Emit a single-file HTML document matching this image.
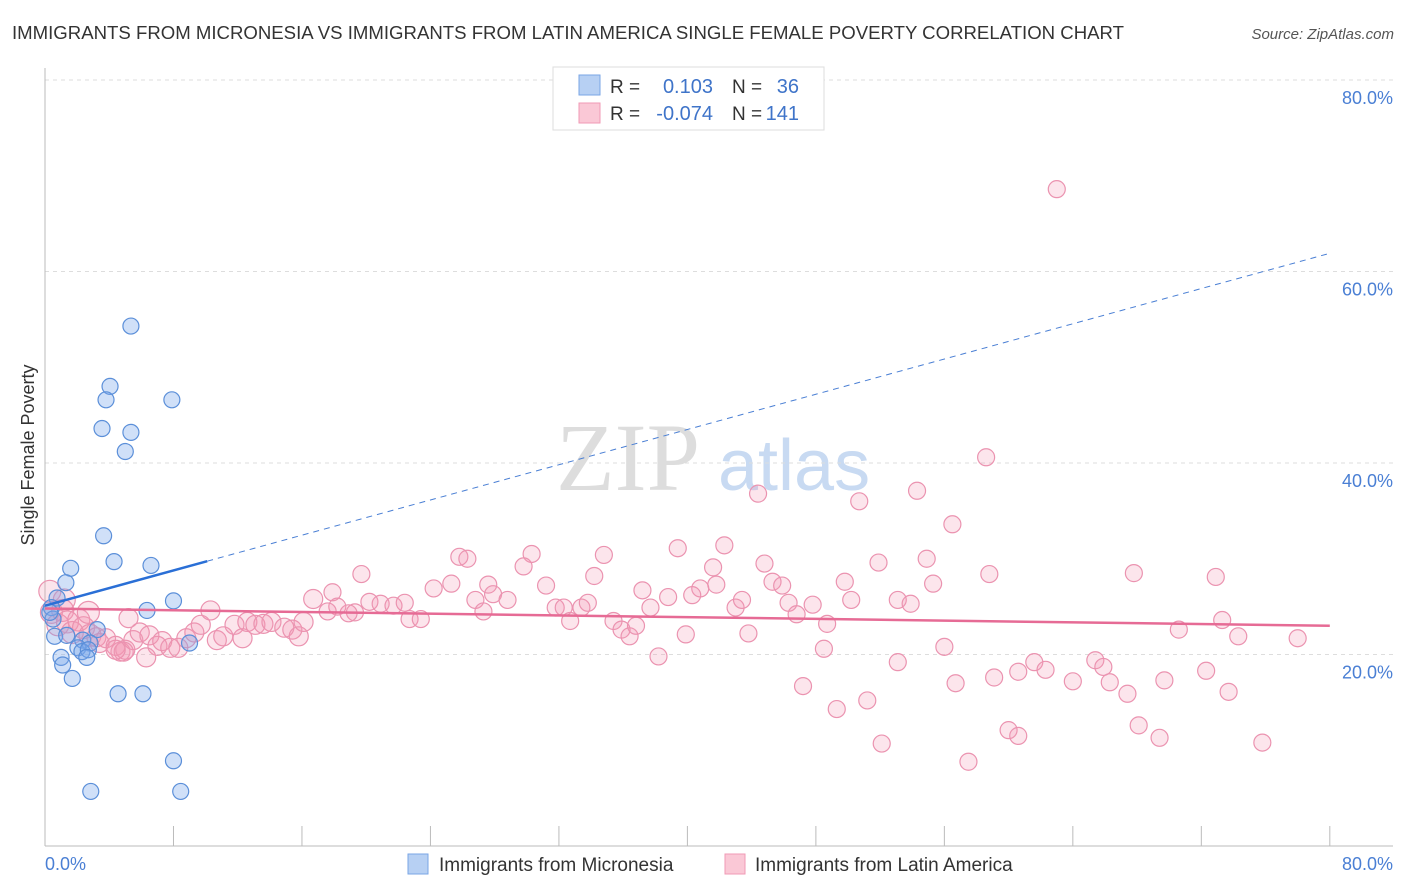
<!DOCTYPE html>
<html><head><meta charset="utf-8"><style>
body{margin:0;background:#fff;font-family:"Liberation Sans",sans-serif;}
svg{display:block}
</style></head><body>
<svg id="c" width="1406" height="892">
<text x="12" y="39" font-size="18.6" fill="#333">IMMIGRANTS FROM MICRONESIA VS IMMIGRANTS FROM LATIN AMERICA SINGLE FEMALE POVERTY CORRELATION CHART</text>
<text x="1394" y="39" font-size="15" fill="#555" font-style="italic" text-anchor="end">Source: ZipAtlas.com</text>
<text x="556" y="490" font-size="96" fill="#ddd" font-family="Liberation Serif,serif">ZIP</text>
<text x="718" y="490" font-size="72" fill="#c8daf2">atlas</text>
<text transform="translate(34,455) rotate(-90)" font-size="18" fill="#333" text-anchor="middle">Single Female Poverty</text>
<g id="grid"></g><g id="pts"></g><g id="lines"></g>
<g>
<rect x="553" y="67" width="271" height="63" fill="#fff" stroke="#ddd"/>
<rect x="579" y="75" width="21" height="20" fill="#b7d0f3" stroke="#7aa6e6"/>
<rect x="579" y="103" width="21" height="20" fill="#fac8d6" stroke="#f09ab5"/>
<text x="610" y="93" font-size="19" fill="#333">R =</text><text x="713" y="93" font-size="20" fill="#3f74c9" text-anchor="end">0.103</text>
<text x="732" y="93" font-size="19" fill="#333">N =</text><text x="799" y="93" font-size="20" fill="#3f74c9" text-anchor="end">36</text>
<text x="610" y="120" font-size="19" fill="#333">R =</text><text x="713" y="120" font-size="20" fill="#3f74c9" text-anchor="end">-0.074</text>
<text x="732" y="120" font-size="19" fill="#333">N =</text><text x="799" y="120" font-size="20" fill="#3f74c9" text-anchor="end">141</text>
</g>
<g>
<rect x="408" y="854" width="20" height="20" fill="#b7d0f3" stroke="#7aa6e6"/>
<text x="439" y="871" font-size="19" fill="#333">Immigrants from Micronesia</text>
<rect x="725" y="854" width="20" height="20" fill="#fac8d6" stroke="#f09ab5"/>
<text x="755" y="871" font-size="19" fill="#333">Immigrants from Latin America</text>
</g>
<text x="45" y="870" font-size="18" fill="#4a7fd4">0.0%</text>
<text x="1393" y="870" font-size="18" fill="#4a7fd4" text-anchor="end">80.0%</text>
</svg>
<script>
const yTicks=[20,40,60,80];
const xTicks=[8,16,24,32,40,48,56,64,72,80];
const blueX=[5.35,4.05,3.8,7.9,3.55,5.35,5.0,3.65,4.3,6.6,1.6,1.3,0.75,6.35,8.0,0.4,0.5,0.6,3.25,1.35,2.35,2.8,2.05,2.3,2.7,1.0,1.1,2.6,9.0,1.7,4.55,6.1,8.0,2.85,8.45,0.3];
const blueY=[54.3,48.0,46.6,46.6,43.6,43.2,41.2,32.4,29.7,29.3,29.0,27.5,25.9,24.6,25.6,24.9,23.7,21.9,22.6,22.0,21.5,21.2,20.7,20.3,20.5,19.7,18.9,19.7,21.2,17.5,15.9,15.9,8.9,5.7,5.7,24.4];
const pinkX=[63.0,58.6,44.4,50.7,54.3,56.5,25.8,26.3,30.3,34.8,39.4,42.3,41.6,44.8,29.8,51.9,54.9,58.8,67.8,72.9,19.7,24.2,25.3,27.6,31.2,34.2,37.2,40.8,41.8,45.3,45.9,49.8,55.3,17.9,16.7,18.2,19.3,20.2,20.9,21.7,22.4,26.8,27.9,28.8,31.8,32.3,33.4,33.8,38.8,40.3,43.0,43.4,46.3,47.8,50.2,53.1,53.9,17.6,18.9,22.7,23.4,27.3,32.7,35.4,37.7,35.9,36.4,36.8,39.9,43.8,46.8,48.7,73.3,70.6,74.3,78.0,38.2,48.5,56.0,53.1,61.6,65.4,65.9,60.6,62.3,72.3,59.1,56.7,64.0,66.3,69.7,67.4,47.2,51.2,73.7,49.3,60.0,60.6,68.1,69.4,52.1,75.8,57.5,
0.3,0.4,0.8,1.1,1.4,1.7,2.1,2.4,2.8,3.2,3.4,3.8,4.4,4.7,5.0,5.5,5.9,6.5,7.0,7.3,7.8,8.3,8.8,9.3,9.7,10.3,10.7,11.1,11.8,12.3,12.6,13.1,13.6,14.1,14.9,15.4,15.8,16.1,6.3,4.9,4.4,5.2,2.7,1.2];
const pinkY=[68.6,40.6,36.8,36.0,37.1,33.6,30.2,30.0,30.5,30.4,31.1,31.4,29.1,29.5,29.2,29.6,30.0,28.4,28.5,28.1,28.4,26.9,27.4,27.3,27.2,28.2,26.7,26.9,27.3,27.6,27.2,27.6,27.4,26.5,25.8,25.0,24.4,25.5,25.3,25.1,25.4,25.7,26.3,25.7,24.9,24.9,24.9,25.4,26.0,26.2,24.9,25.7,25.4,25.2,25.7,25.7,25.3,24.5,24.3,23.7,23.7,24.5,23.5,23.5,24.9,22.6,21.9,23.0,22.1,22.2,24.2,23.2,23.6,22.6,21.9,21.7,19.8,20.6,20.8,19.2,19.2,19.4,18.7,18.2,18.4,18.3,17.6,17.0,17.2,17.1,17.3,15.9,16.7,15.2,16.1,14.3,12.1,11.5,12.6,11.3,10.7,10.8,8.8,
26.6,24.4,23.1,24.6,23.4,22.3,23.6,22.8,22.0,21.8,21.2,21.7,20.9,20.3,20.5,21.5,22.3,22.0,20.9,21.4,20.7,20.7,21.7,22.3,23.1,24.6,21.5,21.9,23.1,21.7,23.4,23.1,23.2,23.4,22.8,22.6,21.9,23.4,19.7,20.3,20.5,23.8,24.4,25.7];
const blueTrend=[25.1,0.46];
const pinkTrend=[24.8,-0.0225];
const X=v=>45+v*16.06, Y=v=>846-v*9.575;
const NS='http://www.w3.org/2000/svg';
function mk(p,t,a){const e=document.createElementNS(NS,t);for(const k in a)e.setAttribute(k,a[k]);p.appendChild(e);return e;}
const grid=document.getElementById('grid');
yTicks.forEach(t=>{
 const l=mk(grid,'line',{x1:45,x2:1393,y1:Y(t),y2:Y(t),stroke:'#ddd','stroke-dasharray':'4,4'});
 
 
 const tx=mk(grid,'text',{x:1393,y:Y(t)+24,'font-size':18,fill:'#4a7fd4','text-anchor':'end'});
 tx.textContent=t.toFixed(1)+'%';
 
 
});
const ax=mk(grid,'line',{x1:45,x2:45,y1:68,y2:846,stroke:'#bbb'});


const bx=mk(grid,'line',{x1:45,x2:1393,y1:846,y2:846,stroke:'#bbb'});


xTicks.forEach(t=>{
 const l=mk(grid,'line',{x1:X(t),x2:X(t),y1:826,y2:846,stroke:'#bbb'});
 
 
});
const pts=document.getElementById('pts');
pinkX.forEach((x,i)=>{
 const r=x<3?11:(x<17?9.5:8.5);
 const c=mk(pts,'circle',{cx:X(x),cy:Y(pinkY[i]),r:r,fill:'rgba(244,150,180,0.25)',stroke:'#eb93b0','stroke-width':1.2});
 
 
});
blueX.forEach((x,i)=>{
 const c=mk(pts,'circle',{cx:X(x),cy:Y(blueY[i]),r:8,fill:'rgba(120,165,235,0.35)',stroke:'#5b8fd9','stroke-width':1.2});
 
 
});
const lines=document.getElementById('lines');
const f=(tr,x)=>tr[0]+tr[1]*x;
const b1=mk(lines,'line',{x1:X(0),y1:Y(f(blueTrend,0)),x2:X(10.1),y2:Y(f(blueTrend,10.1)),stroke:'#2a6fd6','stroke-width':2.5});


const b2=mk(lines,'line',{x1:X(10.1),y1:Y(f(blueTrend,10.1)),x2:X(80),y2:Y(f(blueTrend,80)),stroke:'#4a7fd4','stroke-width':1,'stroke-dasharray':'6,5'});


const p1=mk(lines,'line',{x1:X(0),y1:Y(f(pinkTrend,0)),x2:X(80),y2:Y(f(pinkTrend,80)),stroke:'#e66b95','stroke-width':2.5});


</script>
</body></html>
